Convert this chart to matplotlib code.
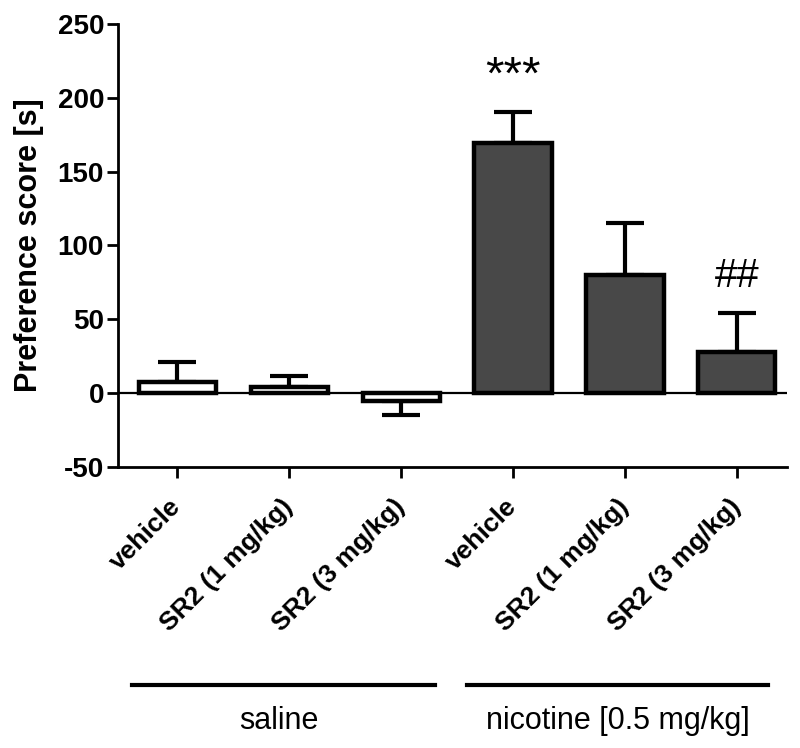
import matplotlib
matplotlib.use("Agg")
import matplotlib.pyplot as plt

plt.rcParams['font.family'] = ['Liberation Sans', 'DejaVu Sans']
plt.rcParams['axes.unicode_minus'] = False

# Data
labels = ['vehicle', 'SR2 (1 mg/kg)', 'SR2 (3 mg/kg)',
          'vehicle', 'SR2 (1 mg/kg)', 'SR2 (3 mg/kg)']
means = [7.5, 4, -5, 169.5, 80, 28]
sems = [13.5, 7.5, 10, 21, 35, 26]
colors = ['white', 'white', 'white', '#484848', '#484848', '#484848']
groups = ['saline', 'nicotine [0.5 mg/kg]']
marks = {3: '***', 5: '##'}

x = list(range(len(labels)))

fig = plt.figure(figsize=(8, 7.48), dpi=100)
ax = fig.add_axes([0.1475, 0.3757, 0.8365, 0.5923])

ax.bar(x, means, width=0.69, color=colors, edgecolor='black', linewidth=3.2, zorder=3)

# one-sided error bars (away from zero)
for xi, m, s in zip(x, means, sems):
    if m >= 0:
        yerr = [[0], [s]]
    else:
        yerr = [[s], [0]]
    ax.errorbar(xi, m, yerr=yerr, fmt='none', ecolor='black', elinewidth=3,
                capsize=14, capthick=3, zorder=2)

ax.axhline(0, color='black', linewidth=1.6, zorder=4)

ax.set_xlim(-0.53, 5.45)
ax.set_ylim(-50, 250)
ax.set_yticks([-50, 0, 50, 100, 150, 200, 250])
ax.set_xticks(x)
ax.set_xticklabels(labels, rotation=45, ha='right', va='center', rotation_mode='anchor',
                   fontsize=19, fontweight='bold')
for lab in ax.get_yticklabels():
    lab.set_fontsize(20)
    lab.set_fontweight('bold')
ax.set_ylabel('Preference score [s]', fontsize=22, fontweight='bold', labelpad=10)

for side in ['top', 'right']:
    ax.spines[side].set_visible(False)
for side in ['left', 'bottom']:
    ax.spines[side].set_linewidth(2)
ax.tick_params(width=2, length=8)
ax.tick_params(axis='x', pad=18)
ax.tick_params(axis='y', pad=2)

# significance marks
ax.text(x[3], 229, marks[3], ha='center', va='top', fontsize=34)
ax.text(x[5], 72, marks[5], ha='center', va='baseline', fontsize=29)

# group lines and labels
fig.add_artist(plt.Line2D([132 / 800, 435 / 800], [1 - 685 / 748] * 2,
                          color='black', linewidth=3))
fig.add_artist(plt.Line2D([467 / 800, 768 / 800], [1 - 685 / 748] * 2,
                          color='black', linewidth=3))
fig.text(279 / 800, 1 - 721 / 748, groups[0], ha='center', va='center', fontsize=22)
fig.text(618 / 800, 1 - 721 / 748, groups[1], ha='center', va='center', fontsize=22)

fig.savefig('out.png', dpi=100)
